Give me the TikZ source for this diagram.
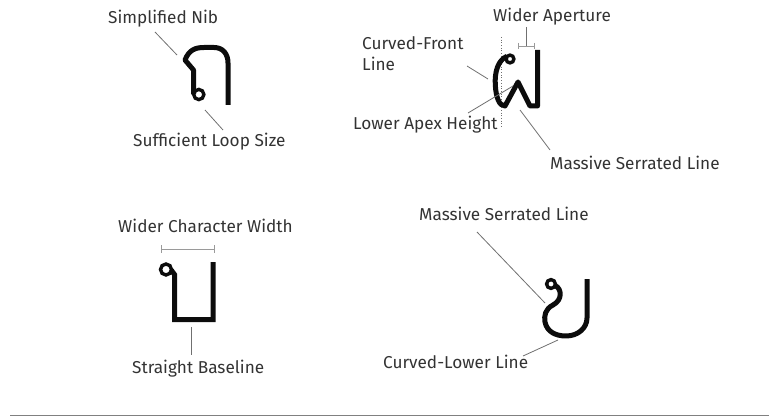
\documentclass[tikz,border=0pt]{standalone}
\usepackage{fontspec}
\setmainfont{Fira Sans}
\definecolor{txtgray}{HTML}{333333}
\definecolor{leadgray}{HTML}{707070}
\definecolor{dimgray}{HTML}{9A9A9A}
\definecolor{inkc}{HTML}{0C0C0C}
\begin{document}
\begin{tikzpicture}[x=1pt,y=-1pt,
  lbl/.style={anchor=base west,inner sep=0pt,text=txtgray,font=\fontsize{17.2}{21}\selectfont},
  lead/.style={draw=leadgray,line width=0.8pt},
  dimline/.style={draw=dimgray,line width=0.8pt},
  glyph/.style={draw=inkc,line width=5pt,line join=round,line cap=butt},
  ring/.style={draw=inkc,line width=3.4pt}]
\useasboundingbox (0,0) rectangle (769,417);

% ---------- labels ----------
\node[lbl] (nib) at (108,24) {Simplified Nib};
\node[lbl] (loop) at (133,147) {Sufficient Loop Size};
\node[lbl] (aper) at (493,21.5) {Wider Aperture};
\node[lbl,align=left] (front) at (362,70.5) {Curved-Front\\Line};
\node[lbl] (apex) at (353,130) {Lower Apex Height};
\node[lbl] (serr1) at (550,170) {Massive Serrated Line};
\node[lbl] (width) at (118,232.5) {Wider Character Width};
\node[lbl] (base) at (132,373) {Straight Baseline};
\node[lbl] (serr2) at (419,220) {Massive Serrated Line};
\node[lbl] (lower) at (383,368) {Curved-Lower Line};

% ---------- glyph 1 ----------
\draw[glyph] (193.5,94.5) -- (193.5,70) -- (185,60) .. controls (189,50) and (195,47.5) .. (204,47.5) -- (214,47.5) .. controls (223,47.5) and (228,54) .. (228,63) -- (228,105);
\draw[ring] (198.8,94.5) circle (5.1);

% ---------- glyph 2 ----------
\draw[leadgray,line width=0.7pt,dotted] (501,37) -- (501,128);
\draw[ring] (510,59) circle (3.9);
\draw[glyph] (507,56.3) .. controls (498,60) and (494.5,72) .. (495.3,85) .. controls (496,97) and (499,106) .. (505,106) -- (518,82) -- (530,106) -- (537.5,106) -- (537.5,50);
\draw[dimline] (518,46) -- (534,46);
\draw[dimline] (518,43) -- (518,49);
\draw[dimline] (534,43) -- (534,49);
\draw[lead] (526,27) -- (526,46);

% ---------- glyph 3 ----------
\draw[ring] (166,269.5) circle (5.5);
\draw[glyph,line join=miter] (171.2,270) -- (174.5,274.5) -- (174.5,319.5) -- (213,319.5) -- (213,262);
\draw[dimline] (161,249) -- (214,249);
\draw[dimline] (161,245) -- (161,253);
\draw[dimline] (214,245) -- (214,253);

% ---------- glyph 4 ----------
\draw[ring] (551,284) circle (4.4);
\draw[glyph] (555.2,285.5) .. controls (562,289) and (562.5,300) .. (553,305) .. controls (545,309) and (544,316) .. (545,322) .. controls (547,332) and (556,336) .. (566,336) .. controls (578,336) and (587,328) .. (587,318) -- (587,279);

% ---------- leaders ----------
\coordinate (l1a) at (155,32);  \coordinate (l1b) at (177,55);
\coordinate (l2a) at (205,110); \coordinate (l2b) at (223,130);
\coordinate (l3a) at (467,66);  \coordinate (l3b) at (488,79);
\coordinate (l4a) at (468,113); \coordinate (l4b) at (513,86);
\coordinate (l5a) at (520,110); \coordinate (l5b) at (550,150);
\coordinate (l6a) at (191,327); \coordinate (l6b) at (191,355);
\coordinate (l7a) at (477,232); \coordinate (l7b) at (545,303);
\coordinate (l8a) at (523,356); \coordinate (l8b) at (558,340);
\foreach \i in {1,...,8} {\draw[lead] (l\i a) -- (l\i b);}

% ---------- bottom rule ----------
\draw[draw=black!50,line width=1.3pt] (10,415.5) -- (769,415.5);
\end{tikzpicture}
\end{document}
